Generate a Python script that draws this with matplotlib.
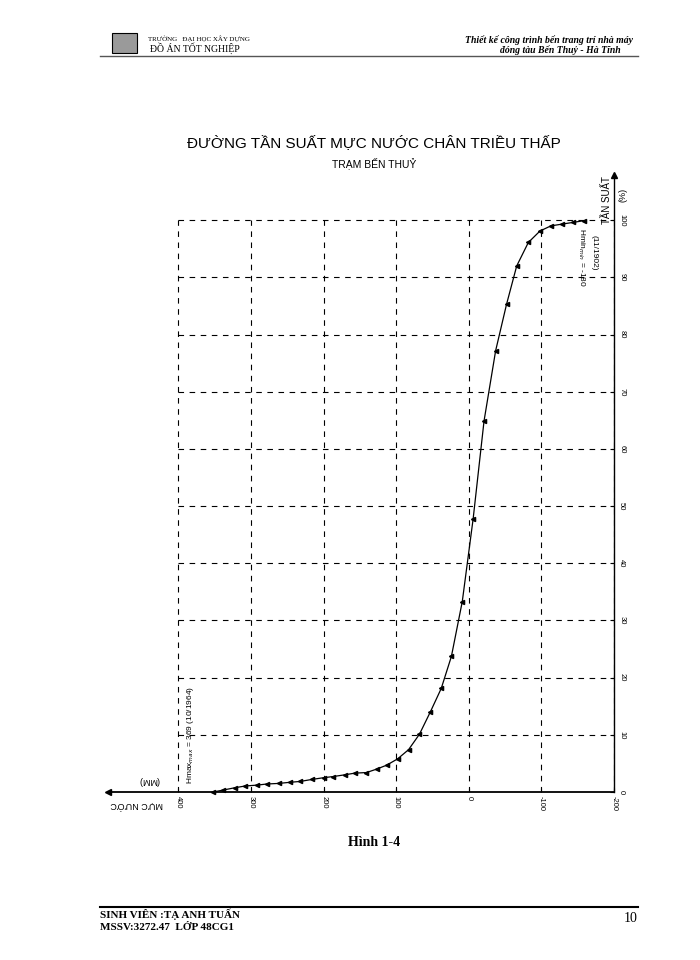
import matplotlib
matplotlib.use("Agg")
import matplotlib.pyplot as plt
from matplotlib.lines import Line2D
from matplotlib.patches import Rectangle

plt.rcParams['font.family'] = ['Liberation Sans', 'DejaVu Sans']

# water level (mm) vs frequency (%)
muc_nuoc = [352, 338, 322, 308, 292, 278, 262, 246, 232, 216, 200, 187, 171, 157,
            141, 127, 113, 98, 83, 68, 53, 38, 24, 9, -6, -21, -37, -52, -66,
            -82, -98, -113, -128, -143, -158]
tan_suat = [0.0, 0.35, 0.75, 1.05, 1.2, 1.4, 1.5, 1.7, 1.85, 2.2, 2.5, 2.7, 3.0, 3.3,
            3.4, 4.0, 4.7, 5.8, 7.4, 10.1, 14.0, 18.1, 23.7, 33.3, 47.8, 64.9, 77.2,
            85.3, 92.0, 96.1, 98.1, 99.0, 99.3, 99.6, 99.9]

x_ticks = [400, 300, 200, 100, 0, -100, -200]
x_labels = ["400", "300", "200", "100", "0", "-100", "-200"]
y_ticks = [0, 10, 20, 30, 40, 50, 60, 70, 80, 90, 100]

W, H = 700, 960
fig = plt.figure(figsize=(7, 9.6), dpi=100)


def fx(x):
    return x / W


def fy(y):
    return 1 - y / H


# page header
fig.add_artist(Rectangle((fx(112), fy(53)), 25 / W, 20 / H, facecolor="#9a9a9a",
                         edgecolor="black", lw=0.8))
fig.text(fx(148), fy(39), "TRƯỜNG   ĐẠI HỌC XÂY DỰNG", family="Liberation Serif",
         fontsize=5, va="center", ha="left")
fig.text(fx(150), fy(48), "ĐỒ ÁN TỐT NGHIỆP", family="Liberation Serif",
         fontsize=7, va="center", ha="left")
fig.text(fx(633), fy(40), "Thiết kế công trình bến trang trí nhà máy",
         family="Liberation Serif", style="italic", weight="bold", fontsize=7,
         va="center", ha="right")
fig.text(fx(621), fy(50), "đóng tàu Bến Thuỷ - Hà Tĩnh",
         family="Liberation Serif", style="italic", weight="bold", fontsize=7,
         va="center", ha="right")
fig.add_artist(Line2D([fx(100), fx(638)], [fy(56), fy(56)], color="#555555", lw=1.0))

# titles
fig.text(fx(374), fy(143), "ĐƯỜNG TẦN SUẤT MỰC NƯỚC CHÂN TRIỀU THẤP",
         fontsize=11, ha="center", va="center")
fig.text(fx(374), fy(163), "TRẠM BẾN THUỶ", fontsize=7.5, ha="center", va="center")

# chart
ax = fig.add_axes([fx(108), fy(792), (614 - 108) / W, (792 - 175) / H])
ax.set_xlim(497, -200)
ax.set_ylim(0, 107.9)

ax.vlines(x_ticks, 0, 100, colors="black", linestyles=(0, (5, 5)), lw=0.8)
ax.hlines(y_ticks[1:], 400, -200, colors="black", linestyles=(0, (5, 5)), lw=0.8)

ax.plot(muc_nuoc, tan_suat, color="black", lw=0.9, marker="<", markersize=3,
        clip_on=False)

for s in ["top", "left"]:
    ax.spines[s].set_visible(False)
ax.spines["right"].set_linewidth(1.0)
ax.spines["bottom"].set_linewidth(1.3)

ax.yaxis.tick_right()
ax.set_yticks(y_ticks)
ax.set_yticklabels([str(v) for v in y_ticks], rotation=-90, va="center")
ax.set_xticks(x_ticks)
ax.set_xticklabels(x_labels, rotation=-90, ha="center")
ax.tick_params(axis="both", labelsize=5.5, length=3, direction="in", pad=3)

# axis arrows
ax.plot(0, 0, marker="<", color="black", markersize=5, transform=ax.transAxes,
        clip_on=False)
ax.plot(1, 1, marker="^", color="black", markersize=5, transform=ax.transAxes,
        clip_on=False)

# axis labels
ax.text(458, -1.5, "MỰC NƯỚC", rotation=180, fontsize=6.5, ha="center", va="top")
ax.text(440, 1.2, "(MM)", rotation=180, fontsize=6.5, ha="center", va="bottom")
ax.text(-190, 103.5, "TẦN SUẤT", rotation=90, fontsize=7, ha="center", va="center",
        clip_on=False)
ax.text(-212, 104.5, "(%)", rotation=90, fontsize=6.5, ha="center", va="center",
        clip_on=False)

# extremes
ax.text(384, 10, "Hmax$_{max}$ = 369 (10/1964)", rotation=90, fontsize=6,
        ha="center", va="center")
ax.text(-155, 93.5, "Hmin$_{min}$ = -180", rotation=-90, fontsize=6,
        ha="center", va="center")
ax.text(-173, 94.3, "(11/1902)", rotation=-90, fontsize=6, ha="center", va="center")

# caption and footer
fig.text(fx(374), fy(843), "Hình 1-4", family="Liberation Serif", weight="bold",
         fontsize=10, ha="center", va="center")
fig.add_artist(Line2D([fx(100), fx(638)], [fy(907), fy(907)], color="black", lw=1.5))
fig.text(fx(100), fy(914), "SINH VIÊN :TẠ ANH TUẤN", family="Liberation Serif",
         weight="bold", fontsize=8, ha="left", va="center")
fig.text(fx(100), fy(927), "MSSV:3272.47  LỚP 48CG1", family="Liberation Serif",
         weight="bold", fontsize=8, ha="left", va="center")
fig.text(fx(638), fy(919), "10", family="Liberation Serif", fontsize=10,
         ha="right", va="center")

fig.savefig("out.png", dpi=100)
